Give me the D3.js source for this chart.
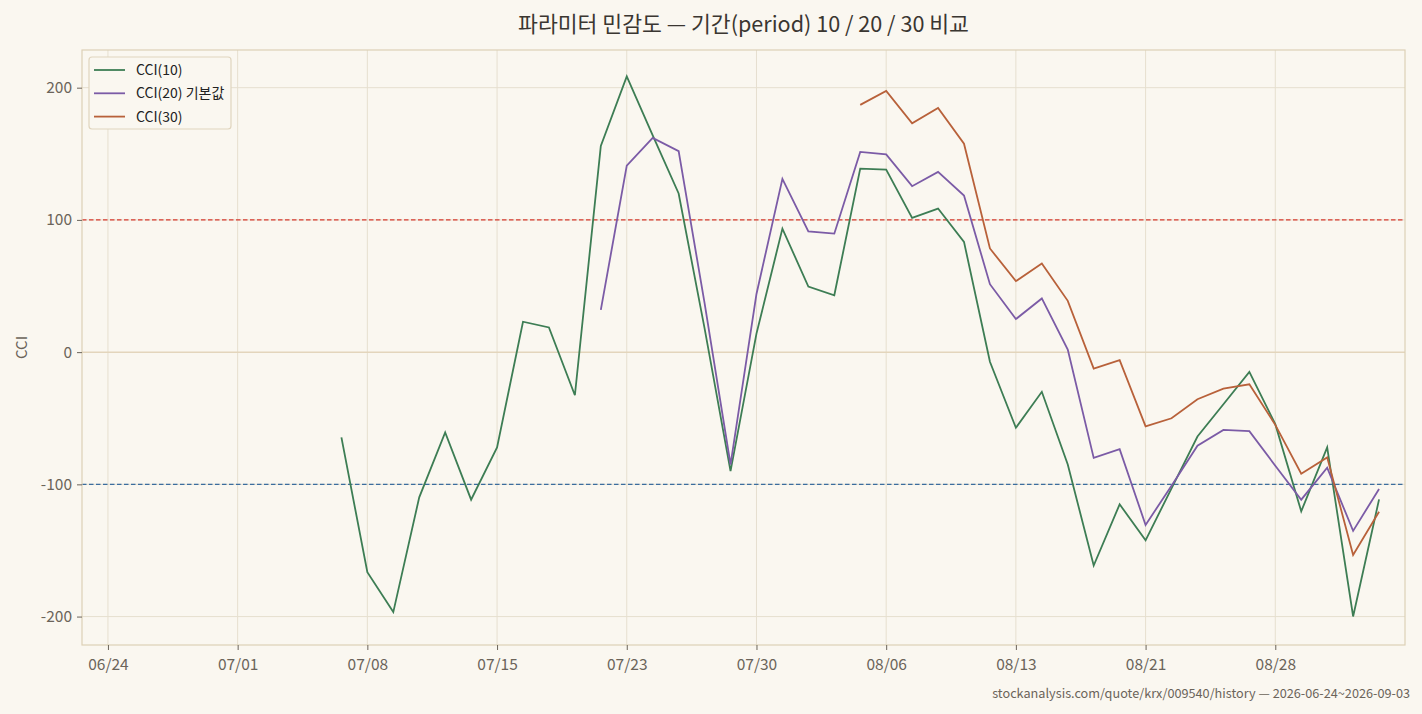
<!DOCTYPE html>
<html><head><meta charset="utf-8">
<script src="https://cdn.jsdelivr.net/npm/d3@7"></script>
<style>
body{margin:0;background:#faf7f0;}
svg{display:block;font-family:"Noto Sans CJK KR","Noto Sans",sans-serif;}
</style></head>
<body><svg id="c" width="1422" height="714"></svg>
<script>
const dates = ["06/24","06/25","06/26","06/29","06/30","07/01","07/02","07/03","07/06","07/07",
"07/08","07/09","07/10","07/13","07/14","07/15","07/16","07/20","07/21","07/22",
"07/23","07/24","07/27","07/28","07/29","07/30","07/31","08/03","08/04","08/05",
"08/06","08/07","08/10","08/11","08/12","08/13","08/14","08/18","08/19","08/20",
"08/21","08/24","08/25","08/26","08/27","08/28","08/31","09/01","09/02","09/03"];
const tickIdx = [0,5,10,15,20,25,30,35,40,45];
const yTicks = [-200,-100,0,100,200];
const cci10 = [null,null,null,null,null,null,null,null,null,-64.5,
-166.4,-196.6,-109.8,-60.8,-111.6,-72.1,23,18.7,-32.6,156,
208.5,164,120,18,-90,14,93.4,49.6,43,138.8,
138,101.5,108.6,83.4,-7.3,-57.2,-30,-85,-161.4,-115.1,
-142.3,-103,-63.8,-39.4,-15,-54.5,-120.4,-72.1,-199.9,-111.4];
const cci20 = [null,null,null,null,null,null,null,null,null,null,
null,null,null,null,null,null,null,null,null,32,
141,162,152,37,-85,44,131,91.3,89.6,151.4,
149.6,125.5,136.3,118.4,51.4,25,40.6,2,-80,-73.4,
-130.7,-101,-70.8,-58.8,-59.8,-85.9,-111.6,-87.4,-135.2,-103.5];
const cci30 = [null,null,null,null,null,null,null,null,null,null,
null,null,null,null,null,null,null,null,null,null,
null,null,null,null,null,null,null,null,null,187,
197.5,173,184.6,157.6,78.4,53.7,67,38.8,-12.4,-6,
-56.2,-50,-35.6,-27.6,-24.3,-55,-92,-79.6,-153.4,-120.7];
const seriesNames = ["CCI(10)","CCI(20) 기본값","CCI(30)"];
const seriesColors = ["#3d7d54","#7b5ba6","#b8613a"];
const seriesData = [cci10, cci20, cci30];

const svg = d3.select("#c");
const L=82,R=1405,T=50,B=645;
const x = d3.scaleLinear().domain([-1,50]).range([L,R]);
const y = d3.scaleLinear().domain([-221.5,228.5]).range([B,T]);

svg.append("rect").attr("width",1422).attr("height",714).attr("fill","#faf7f0");
svg.append("rect").attr("x",L).attr("y",T).attr("width",R-L).attr("height",B-T).attr("fill","#faf7f0");

const g = svg.append("g");
// grid
g.selectAll(".vg").data(tickIdx).join("line")
 .attr("x1",d=>x(d)).attr("x2",d=>x(d)).attr("y1",T).attr("y2",B)
 .attr("stroke","#e6dfcf").attr("stroke-width",1);
g.selectAll(".hg").data(yTicks).join("line")
 .attr("x1",L).attr("x2",R).attr("y1",d=>y(d)).attr("y2",d=>y(d))
 .attr("stroke",d=>d===0?"#e3d5bc":"#e6dfcf").attr("stroke-width",d=>d===0?1.5:1);

// reference lines
g.append("line").attr("x1",L).attr("x2",R).attr("y1",y(100)).attr("y2",y(100))
 .attr("stroke","#d63a2f").attr("stroke-width",1.2).attr("stroke-dasharray","4.5,2.5");
g.append("line").attr("x1",L).attr("x2",R).attr("y1",y(-100)).attr("y2",y(-100))
 .attr("stroke","#3b6d9e").attr("stroke-width",1.2).attr("stroke-dasharray","4.5,2.5");

// lines
const line = d3.line().defined(d=>d.v!=null).x(d=>x(d.i)).y(d=>y(d.v));
seriesData.forEach((arr,k)=>{
  g.append("path").datum(arr.map((v,i)=>({i,v})))
   .attr("d",line).attr("fill","none").attr("stroke",seriesColors[k])
   .attr("stroke-width",1.8).attr("stroke-linejoin","miter");
});

// frame
svg.append("rect").attr("x",L).attr("y",T).attr("width",R-L).attr("height",B-T)
 .attr("fill","none").attr("stroke","#ddd0b6").attr("stroke-width",1.2);

// axes
const xa = svg.append("g").attr("transform",`translate(0,${B})`)
 .call(d3.axisBottom(x).tickValues(tickIdx).tickFormat(i=>dates[i]).tickSize(5).tickPadding(6));
const ya = svg.append("g").attr("transform",`translate(${L},0)`)
 .call(d3.axisLeft(y).tickValues(yTicks).tickFormat(d=>d).tickSize(5).tickPadding(5));
[xa,ya].forEach(a=>{
  a.select(".domain").remove();
  a.selectAll(".tick line").attr("stroke","#6b645a").attr("stroke-width",1);
  a.selectAll(".tick text").attr("fill","#6b645a").attr("font-size","15.5px")
   .attr("font-family","'Noto Sans CJK KR','Noto Sans',sans-serif");
});
xa.selectAll(".tick text").attr("dy","0.9em");

// y label
svg.append("text").attr("transform",`translate(27,${(T+B)/2}) rotate(-90)`)
 .attr("text-anchor","middle").attr("fill","#6b645a").attr("font-size","15px").text("CCI");

// title
svg.append("text").attr("x",(L+R)/2).attr("y",31.5).attr("text-anchor","middle")
 .attr("fill","#3a3631").attr("font-size","21.6px").text("파라미터 민감도 — 기간(period) 10 / 20 / 30 비교");

// footer
svg.append("text").attr("x",1410).attr("y",698).attr("text-anchor","end")
 .attr("fill","#6b645a").attr("font-size","12.7px").text("stockanalysis.com/quote/krx/009540/history — 2026-06-24~2026-09-03");

// legend
const lg = svg.append("g");
lg.append("rect").attr("x",89).attr("y",57).attr("width",142).attr("height",72).attr("rx",3)
 .attr("fill","#faf7f0").attr("stroke","#e0d5be").attr("stroke-width",1.2);
seriesNames.forEach((n,k)=>{
  const yy = 70 + k*23.3;
  lg.append("line").attr("x1",94).attr("x2",125).attr("y1",yy).attr("y2",yy)
    .attr("stroke",seriesColors[k]).attr("stroke-width",1.8);
  lg.append("text").attr("x",136).attr("y",yy+5).attr("fill","#222").attr("font-size","14px").text(n);
});
</script></body></html>
